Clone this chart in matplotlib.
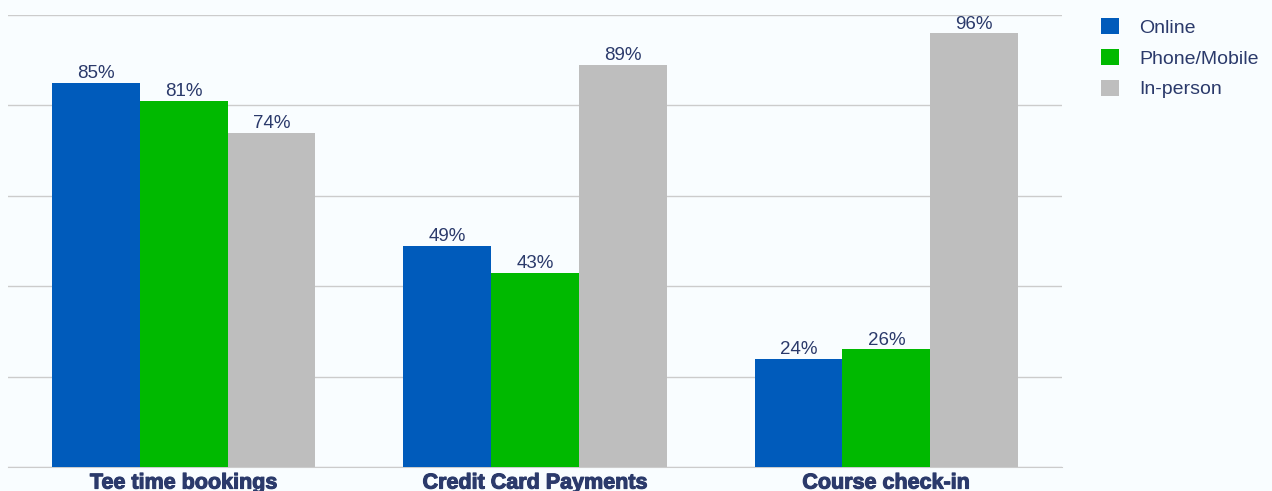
import numpy as np
import matplotlib.pyplot as plt
import matplotlib.patheffects as pe

categories = ["Tee time bookings", "Credit Card Payments", "Course check-in"]
series = ["Online", "Phone/Mobile", "In-person"]
online = [85, 49, 24]
phone = [81, 43, 26]
in_person = [74, 89, 96]

colors = ["#005bbb", "#00b900", "#bebebe"]
text_color = "#2b3a6b"
bg = "#f9fdff"

plt.rcParams['font.family'] = ['Liberation Sans', 'DejaVu Sans']

fig = plt.figure(figsize=(12.72, 4.91), dpi=100, facecolor=bg)
ax = fig.add_axes([8/1272, 24/491, 1054/1272, 452/491], facecolor=bg)

x = np.arange(len(categories))
w = 0.25
for i, (name, vals) in enumerate(zip(series, [online, phone, in_person])):
    bars = ax.bar(x + (i - 1) * w, vals, w, color=colors[i], label=name, zorder=3)
    for b, v in zip(bars, vals):
        ax.text(b.get_x() + b.get_width() / 2, v + 0.1, f"{v}%", ha="center", va="bottom",
                fontsize=13.5, color=text_color, zorder=4)

ax.set_xlim(-0.5, 2.5)
ax.set_ylim(0, 100)
ax.set_yticks([0, 20, 40, 60, 80, 100])
ax.yaxis.grid(True, color="#cccccc", linewidth=1, zorder=0)
ax.tick_params(axis="y", left=False, labelleft=False)
ax.tick_params(axis="x", length=0, pad=4)
ax.set_xticks(x)
ax.set_xticklabels(categories, fontsize=15.5, fontweight="bold", color=text_color)
for lbl in ax.get_xticklabels():
    lbl.set_path_effects([pe.withStroke(linewidth=0.8, foreground=text_color)])
for s in ["top", "right", "left"]:
    ax.spines[s].set_visible(False)
ax.spines["bottom"].set_color("#cccccc")

fig.legend(loc="upper left", bbox_to_anchor=(1101/1272, 1 - 18/491), frameon=False,
           fontsize=14, labelcolor=text_color, handlelength=0.93, handleheight=0.9,
           handletextpad=1.03, labelspacing=0.62, borderpad=0, borderaxespad=0)

fig.savefig("out.png", dpi=100, facecolor=bg)
